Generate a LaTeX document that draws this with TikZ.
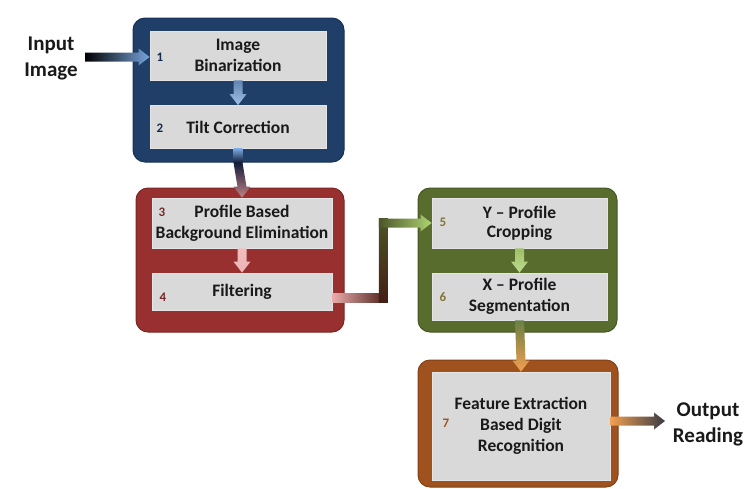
\documentclass[tikz,border=0pt]{standalone}
\usepackage{fontspec}
\setmainfont{Carlito}
\usetikzlibrary{calc}

\definecolor{grpBlue}{RGB}{31,62,104}
\definecolor{grpRed}{RGB}{152,48,48}
\definecolor{grpGreen}{RGB}{88,108,46}
\definecolor{grpOrange}{RGB}{160,82,30}
\definecolor{boxGray}{RGB}{217,217,217}
\definecolor{arBlue}{RGB}{120,165,220}
\definecolor{arNavy}{RGB}{18,28,58}
\definecolor{arPink}{RGB}{236,172,172}
\definecolor{arBrown}{RGB}{70,30,20}
\definecolor{arOlive}{RGB}{75,85,40}
\definecolor{arGreen}{RGB}{175,212,115}
\definecolor{arUmber}{RGB}{105,78,32}
\definecolor{arOrange}{RGB}{242,160,80}
\definecolor{arGray}{RGB}{55,58,68}
\definecolor{txt}{RGB}{25,25,25}

\tikzset{
  group/.style={rounded corners=12pt, line width=1pt},
  stepbox/.style={fill=boxGray, draw=white!80!gray, line width=0.8pt,
    inner sep=0pt, align=center, text=txt,
    font=\fontsize{17.5}{21}\selectfont\bfseries},
  num/.style={font=\fontsize{13}{14}\selectfont\bfseries, inner sep=0pt},
  io/.style={font=\fontsize{21}{26}\selectfont\bfseries, text=txt, align=center, inner sep=0pt},
}

% horizontal shaded arrow: from, to, left colour, right colour
\newcommand{\harrow}[4]{%
  \shade[left color=#3, right color=#4]
    ($(#1)+(0,-4.5)$) -- ($(#2)+(-11,-4.5)$) -- ($(#2)+(-11,-8.5)$) -- (#2)
    -- ($(#2)+(-11,8.5)$) -- ($(#2)+(-11,4.5)$) -- ($(#1)+(0,4.5)$) -- cycle;}
% vertical shaded arrow: from, to, top, middle, bottom colour
\newcommand{\varrow}[5]{%
  \shade[top color=#3, middle color=#4, bottom color=#5]
    ($(#1)+(-4.5,0)$) -- ($(#2)+(-4.5,-11)$) -- ($(#2)+(-8.5,-11)$) -- (#2)
    -- ($(#2)+(8.5,-11)$) -- ($(#2)+(4.5,-11)$) -- ($(#1)+(4.5,0)$) -- cycle;}

\begin{document}
\begin{tikzpicture}[x=1pt, y=-1pt]
\useasboundingbox (0,0) rectangle (747,488);

% group frames
\node[group, fill=grpBlue, draw=grpBlue!80!black, minimum width=211pt, minimum height=144pt] (g1) at (238.5,90) {};
\node[group, fill=grpRed, draw=grpRed!80!black, minimum width=208pt, minimum height=144pt] (g2) at (240,260) {};
\node[group, fill=grpGreen, draw=grpGreen!80!black, minimum width=199pt, minimum height=144pt] (g3) at (517.5,260) {};
\node[group, fill=grpOrange, draw=grpOrange!80!black, minimum width=200pt, minimum height=127pt] (g4) at (518,423.5) {};

% processing steps
\node[stepbox, minimum width=176pt, minimum height=49pt] (b1) at (238,55.5) {Image\\Binarization};
\node[stepbox, minimum width=176pt, minimum height=43pt] (b2) at (238,127) {Tilt Correction};
\node[stepbox, minimum width=180pt, minimum height=50pt] (b3) at (242,223) {Profile Based\\Background Elimination};
\node[stepbox, minimum width=180pt, minimum height=37pt] (b4) at (242,291.5) {\raisebox{-6pt}{Filtering}};
\node[stepbox, minimum width=175pt, minimum height=50pt] (b5) at (519.5,223) {\raisebox{-2pt}{Y -- Profile}\\Cropping};
\node[stepbox, minimum width=175pt, minimum height=47pt] (b6) at (519.5,296.5) {X -- Profile\\Segmentation};
\node[stepbox, minimum width=178pt, minimum height=108pt] (b7) at (521,426) {Feature Extraction\\Based Digit\\Recognition};

% step numbers
\node[num, text=grpBlue!70!black] (n1) at (160,57) {1};
\node[num, text=grpBlue!70!black] (n2) at (160,128) {2};
\node[num, text=grpRed!80!black] (n3) at (162,212) {3};
\node[num, text=grpRed!80!black] (n4) at (163,297) {4};
\node[num, text=grpGreen!60!brown] (n5) at (443,222) {5};
\node[num, text=grpGreen!60!brown] (n6) at (443,297) {6};
\node[num, text=grpOrange] (n7) at (446,423) {7};

% input and output
\node[io] (in) at (51,58) {Input\\Image};
\node[io] (out) at (708,424) {Output\\Reading};

% connectors
\coordinate (inA) at (85,57);
\harrow{inA}{b1.west|-inA}{black}{arBlue}
\varrow{b1.south}{b2.north}{arBlue!80!black}{arBlue}{arBlue!70}

% from the blue frame down into the red one
\shade[top color=arBlue, bottom color=arNavy]
  ($(b2.south)+(-4.5,0)$) rectangle ($(b2.south|-g1.south)+(4.5,0)$);
\varrow{b2.south|-g1.south}{b3.north}{arNavy}{grpRed!70!black}{grpRed!60!white}

\varrow{b3.south}{b4.north}{arPink!80}{arPink}{arPink!90}

% filtering -> Y-profile, routed up between the frames
\coordinate (k0) at ($(b4.east)+(0,6)$);
\coordinate (k1) at ($(k0)+(51,0)$);
\coordinate (k2) at (k1|-b5.west);
\shade[left color=arPink, right color=arBrown]
  ($(k0)+(0,-4.5)$) rectangle ($(k1)+(4.5,4.5)$);
\shade[top color=arOlive, bottom color=arBrown]
  ($(k2)+(-4.5,-4.5)$) rectangle ($(k1)+(4.5,4.5)$);
\harrow{$(k2)+(-4.5,0)$}{b5.west}{arOlive}{arGreen}

\varrow{b5.south}{b6.north}{arGreen!90!black}{arGreen}{arGreen!80}
\varrow{b6.south}{b7.north}{arGreen!60!black}{arUmber}{arOrange}
\coordinate (outA) at (665,421);
\harrow{b7.east|-outA}{outA}{arOrange}{arGray}
\end{tikzpicture}
\end{document}
